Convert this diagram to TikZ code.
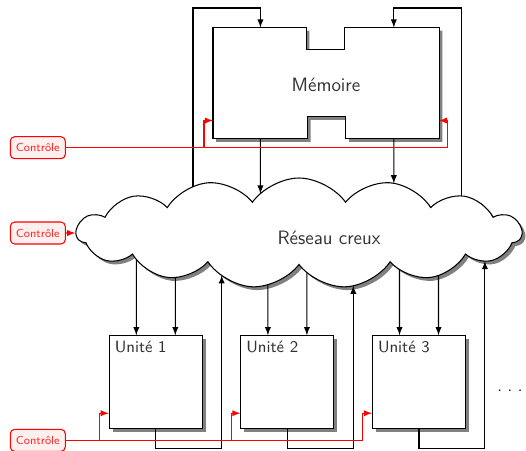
\documentclass[tikz,border=0pt]{standalone}
\usepackage{tikz}
\usetikzlibrary{calc,shapes.symbols,shadows,intersections}

\tikzset{
  ombre/.style={drop shadow={shadow xshift=0.065cm,shadow yshift=-0.065cm,opacity=1,fill=black!50}},
  unite/.style={draw,fill=white,ombre,minimum width=1.86cm,minimum height=1.86cm,inner sep=0pt},
  controle/.style={draw=red,fill=red!6,text=red!85,rounded corners=2.5pt,minimum width=1.1cm,minimum height=0.44cm,inner sep=1pt,font=\sffamily\fontsize{6.6}{7}\selectfont},
  lien/.style={->,>=latex},
  lienctrl/.style={->,>=latex,red},
}

\begin{document}
\begin{tikzpicture}[semithick]
	\useasboundingbox (0,0) rectangle (10.52,-9);
	
	% reseau
	\node[cloud,cloud puffs=15,cloud puff arc=110,draw,fill=white,ombre,minimum width=8.9cm,minimum height=2.2cm,name path=reseau] (reseau) at (5.98,-4.66) {};
	\node[font=\sffamily\fontsize{11}{13}\selectfont,text=black!80] at ($(reseau.center)+(0.6,-0.1)$) {Réseau creux};
	
	% memoire
	\node[minimum width=4.5cm,minimum height=2.2cm,inner sep=0pt] (mem) at (6.52,-1.66) {};
	\draw[fill=white,ombre] (mem.north west) -- ++(1.865,0) -- ++(0,-0.44) -- ++(0.77,0) -- ++(0,0.44) -- (mem.north east)
		-- (mem.south east) -- ++(-1.865,0) -- ++(0,0.44) -- ++(-0.77,0) -- ++(0,-0.44) -- (mem.south west) -- cycle;
	\node[font=\sffamily\fontsize{11}{13}\selectfont,text=black!80] at ($(mem.center)+(0,-0.04)$) {Mémoire};
	
	% unites
	\foreach \u/\x in {1/3.116,2/5.748,3/8.38}{
		\node[unite,label={[anchor=north west,inner sep=0.11cm,font=\sffamily\fontsize{9.3}{11}\selectfont,text=black!80]north west:Unité \u}] (u\u) at (\x,-7.644) {};
	}
	\node[font=\sffamily\fontsize{9.3}{11}\selectfont] (suite) at (10.2,-7.82) {.\ .\ .};
	
	% controles
	\node[controle] (c1) at (0.756,-2.954) {Contrôle};
	\node[controle] (c2) at (0.756,-4.66) {Contrôle};
	\node[controle] (c3) at (0.756,-8.806) {Contrôle};
	
	% memoire -> reseau
	\foreach \i/\f in {1/.21,2/.8}{
		\coordinate (haut\i) at ($(mem.north west)!\f!(mem.north east)$);
		\coordinate (bas\i) at ($(mem.south west)!\f!(mem.south east)$);
		\path[name path=descente] (bas\i) -- ++(0,-3);
		\draw[lien,name intersections={of=reseau and descente,sort by=descente}] (bas\i) -- (intersection-1);
	}
	
	% reseau -> memoire
	\foreach \i/\cote/\dx in {1/west/-0.4,2/east/0.44}{
		\path[name path=montee] ($(mem.\cote)+(\dx,0)$) -- ++(0,-5);
		\draw[lien,name intersections={of=reseau and montee,sort by=montee}] (intersection-1) |- ($(haut\i)+(0,0.39)$) -- (haut\i);
	}
	
	% reseau <-> unites
	\foreach \u in {1,2,3}{
		\foreach \s in {-0.39,0.39}{
			\path[name path=entree] ($(u\u.north)+(\s,0)$) -- ++(0,3);
			\draw[lien,name intersections={of=reseau and entree,sort by=entree}] (intersection-1) -- ($(u\u.north)+(\s,0)$);
		}
		\path[name path=retour] ($(u\u.south)+(1.318,0)$) -- ++(0,4);
		\draw[lien,name intersections={of=reseau and retour,sort by=retour}] (u\u.south) -- ++(0,-0.386) -| (intersection-1);
	}
	
	% controle
	\coordinate (e1) at ($(mem.south west)+(0,0.36)$);
	\coordinate (e2) at ($(mem.south east)+(0,0.36)$);
	\coordinate (b1) at ($(e1)+(-0.18,0)$);
	\draw[lienctrl] (c1.east) -| ($(e2)+(0.165,0)$) -- (e2);
	\draw[lienctrl] (b1 |- c1.east) |- (e1);
	
	\draw[lienctrl] (c2.east) -- (reseau.west);
	
	\foreach \u in {1,2,3}{
		\coordinate (eu\u) at ($(u\u.south west)+(0,0.32)$);
		\coordinate (bu\u) at ($(eu\u)+(-0.186,0)$);
		\draw[lienctrl] (bu\u |- c3.east) |- (eu\u);
	}
	\draw[red] (c3.east) -- (bu3 |- c3.east);
\end{tikzpicture}
\end{document}
